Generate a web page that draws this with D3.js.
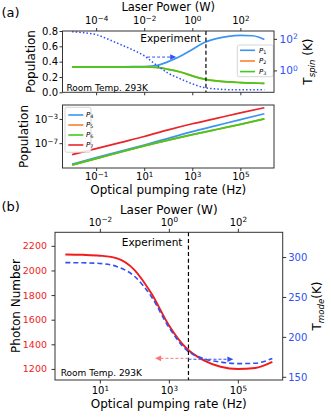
<!DOCTYPE html>
<html><head><meta charset="utf-8">
<script src="https://cdn.jsdelivr.net/npm/d3@7"></script>
<style>
body{margin:0;background:#fff;}
svg{font-family:"DejaVu Sans",sans-serif;display:block;}
</style></head><body>
<svg id="c" width="331" height="417"></svg>
<script>
// ---------------- data ----------------
// panel (a) top: populations vs optical pumping rate (log10 Hz)
const logRateA = [-2,-1.5,-1,-0.5,0,0.5,1,1.5,2,2.5,3,3.5,4,4.5,5,5.5,5.75,6];
const p1 = [0.333,0.333,0.333,0.333,0.333,0.334,0.337,0.35,0.40,0.47,0.56,0.65,0.70,0.73,0.742,0.738,0.722,0.69];
const p2 = [0.333,0.333,0.333,0.333,0.333,0.333,0.331,0.325,0.30,0.265,0.215,0.172,0.148,0.135,0.127,0.121,0.118,0.116];
const p3 = [0.333,0.333,0.333,0.333,0.333,0.333,0.331,0.325,0.30,0.265,0.215,0.172,0.148,0.135,0.127,0.121,0.118,0.116];
const tSpin = [282,245,186,95,44.7,20.9,8.3,2.24,0.66,0.295,0.141,0.081,0.066,0.060,0.059,0.059,0.059,0.059];
// panel (a) bottom
const logRateA2 = [-2,-1,0,1,2,3,4,5,6];
const p4 = [3.5e-11,4.0e-10,4.5e-9,5.0e-8,6.3e-7,7.9e-6,7.9e-5,7.9e-4,7.1e-3];
const p5 = [2.5e-11,2.8e-10,3.2e-9,3.5e-8,3.2e-7,2.5e-6,1.8e-5,1.26e-4,1.0e-3];
const p6 = [2.5e-11,2.8e-10,3.2e-9,3.5e-8,3.2e-7,2.5e-6,1.8e-5,1.26e-4,1.0e-3];
const p7 = [1.26e-9,1.26e-8,1.26e-7,1.26e-6,1.58e-5,1.58e-4,1.26e-3,1.0e-2,7.1e-2];
// panel (b)
const logRateB = [0,0.5,1,1.5,2,2.5,3,3.5,4,4.5,5,5.5,6];
const photonNumber = [2130,2127,2120,2098,2005,1810,1555,1370,1272,1218,1199,1207,1257];
const tMode = [293,292.8,292,288,276,250,212,184,173,168.5,166.5,167,173];
const experimentRate = 3700;      // Hz
const powerPerRate = 1e-3;        // W per Hz
// ticks
const ticksRateA = [1e-1,1e1,1e3,1e5];
const ticksPowerA = [1e-4,1e-2,1e0,1e2];
const ticksPopA = [0,0.2,0.4,0.6,0.8];
const ticksTspin = [1e0,1e2];
const ticksPopLog = [1e-7,1e-3];
const ticksRateB = [1e1,1e3,1e5];
const ticksPowerB = [1e-2,1e0,1e2];
const ticksN = [1200,1400,1600,1800,2000,2200];
const ticksTmode = [150,200,250,300];

// ---------------- colours ----------------
const C = {blue:"#3d94f0", orange:"#ff7f2a", green:"#3fcc1c", red:"#e8262a",
           dblue:"#3050f5", rred:"#f01c1c", lred:"#ff7575", frame:"#333"};

const svg = d3.select("#c");

function supLabel(sel){
  sel.each(function(d){
    const e = Math.round(Math.log10(d));
    const t = d3.select(this);
    t.text(null);
    t.append("tspan").text("10");
    t.append("tspan").attr("dy","-0.45em").attr("font-size","0.72em").text(e<0?"\u2212"+(-e):String(e));
  });
}
function styleAxis(g, fs, color){
  g.attr("font-family",null).attr("font-size",fs);
  g.select(".domain").remove();
  g.selectAll(".tick line").attr("stroke",C.frame);
  g.selectAll(".tick text").attr("fill",color||"#000");
}
function frame(x0,y0,x1,y1){
  svg.append("rect").attr("x",x0).attr("y",y0).attr("width",x1-x0).attr("height",y1-y0)
    .attr("fill","none").attr("stroke",C.frame).attr("stroke-width",1);
}
function pLegend(x0,y0,w,h,items,lx0,lx1,tx){
  const g = svg.append("g");
  g.append("rect").attr("x",x0).attr("y",y0).attr("width",w).attr("height",h).attr("rx",2)
    .attr("fill","#fff").attr("fill-opacity",0.85).attr("stroke","#ccc").attr("stroke-width",0.8);
  items.forEach(it=>{
    g.append("line").attr("x1",lx0).attr("x2",lx1).attr("y1",it.y).attr("y2",it.y)
      .attr("stroke",it.c).attr("stroke-width",1.6);
    const t = g.append("text").attr("x",tx).attr("y",it.y+2.2).attr("font-size",7);
    t.append("tspan").attr("font-style","italic").text("P");
    t.append("tspan").attr("dy","0.25em").attr("font-size","0.7em").text(it.n);
  });
}
function arrowHead(x,y,dir,color){
  const L=6,W=2.8;
  svg.append("path").attr("d",`M${x},${y}L${x-dir*L},${y-W}L${x-dir*L},${y+W}Z`).attr("fill",color);
}

// ================= panel (a) top =================
const xA = d3.scaleLog().domain([10**-2.4,10**6.4]).range([62.5,274]);
const xAP = d3.scaleLog().domain([10**-2.4*powerPerRate,10**6.4*powerPerRate]).range([62.5,274]);
const yA = d3.scaleLinear().domain([0,0.8]).range([92.3,31]);
const yT = d3.scaleLog().domain([10**-1.39,10**2.5]).range([92.3,31]);

const lineA = (arr, ys) => d3.line().x((d,i)=>xA(10**logRateA[i])).y(d=>ys(d)).curve(d3.curveMonotoneX)(arr);
[[p1,C.blue],[p2,C.orange],[p3,C.green]].forEach(([a,c])=>{
  svg.append("path").attr("d",lineA(a,yA)).attr("fill","none").attr("stroke",c).attr("stroke-width",1.7);
});
svg.append("path").attr("d",lineA(tSpin,yT)).attr("fill","none").attr("stroke",C.dblue)
  .attr("stroke-width",1.5).attr("stroke-dasharray","1.5,2.1");
// experiment line
svg.append("line").attr("x1",xA(experimentRate)).attr("x2",xA(experimentRate)).attr("y1",31).attr("y2",92.3)
  .attr("stroke","#000").attr("stroke-width",1.2).attr("stroke-dasharray","4,2.6");
svg.append("text").attr("x",xA(experimentRate)-5).attr("y",41.5).attr("text-anchor","end").attr("font-size",10.5).text("Experiment");
svg.append("text").attr("x",66.5).attr("y",90.5).attr("font-size",9).text("Room Temp. 293K");
// arrow
{
  const xs = xA(10**1.12), xe = xA(10**2.33), y = yA(0.46);
  svg.append("line").attr("x1",xs).attr("x2",xe-5).attr("y1",y).attr("y2",y).attr("stroke",C.dblue)
    .attr("stroke-width",1).attr("stroke-dasharray","3,2");
  arrowHead(xe,y,1,C.dblue);
}
pLegend(237.3,45,36,31.7,[{y:50.3,c:C.blue,n:"1"},{y:61,c:C.orange,n:"2"},{y:71.6,c:C.green,n:"3"}],240,255,259);
frame(62.5,31,274,92.3);
// axes
{
  let g = svg.append("g").attr("transform","translate(0,92.3)")
    .call(d3.axisBottom(xA).tickValues(ticksRateA).tickSize(3).tickFormat(()=>""));
  styleAxis(g,10);
  g = svg.append("g").attr("transform","translate(0,31)")
    .call(d3.axisTop(xAP).tickValues(ticksPowerA).tickSize(3).tickPadding(4));
  styleAxis(g,10); supLabel(g.selectAll(".tick text"));
  g = svg.append("g").attr("transform","translate(62.5,0)")
    .call(d3.axisLeft(yA).tickValues(ticksPopA).tickSize(3).tickPadding(1.5).tickFormat(d3.format(".1f")));
  styleAxis(g,10);
  g = svg.append("g").attr("transform","translate(274,0)")
    .call(d3.axisRight(yT).tickValues(ticksTspin).tickSize(3).tickPadding(2.5));
  styleAxis(g,10.5,C.dblue); supLabel(g.selectAll(".tick text"));
}
svg.append("text").attr("x",168.25).attr("y",11).attr("text-anchor","middle").attr("font-size",11.5).text("Laser Power (W)");
svg.append("text").attr("transform","translate(35,61.6) rotate(-90)").attr("text-anchor","middle").attr("font-size",12).text("Population");
{
  const t = svg.append("text").attr("transform","translate(312,61.6) rotate(-90)").attr("text-anchor","middle").attr("font-size",12);
  t.append("tspan").text("T");
  t.append("tspan").attr("dy","0.3em").attr("font-size","0.72em").attr("font-style","italic").text("spin");
  t.append("tspan").attr("dy","-0.216em").text(" (K)");
}
svg.append("text").attr("x",1.5).attr("y",16.5).attr("font-size",13).text("(a)");

// ================= panel (a) bottom =================
const yL = d3.scaleLog().domain([10**-11.1,10**-0.7]).range([168,105]);
const lineA2 = arr => d3.line().x((d,i)=>xA(10**logRateA2[i])).y(d=>yL(d)).curve(d3.curveMonotoneX)(arr);
[[p4,C.blue],[p5,C.orange],[p6,C.green],[p7,C.red]].forEach(([a,c])=>{
  svg.append("path").attr("d",lineA2(a)).attr("fill","none").attr("stroke",c).attr("stroke-width",1.7);
});
pLegend(65,107.3,26,45,[{y:115,c:C.blue,n:"4"},{y:125,c:C.orange,n:"5"},{y:135,c:C.green,n:"6"},{y:145,c:C.red,n:"7"}],68.3,83.3,86);
frame(62.5,105,274,168);
{
  let g = svg.append("g").attr("transform","translate(0,168)")
    .call(d3.axisBottom(xA).tickValues(ticksRateA).tickSize(3).tickPadding(1.8));
  styleAxis(g,10); supLabel(g.selectAll(".tick text"));
  g = svg.append("g").attr("transform","translate(62.5,0)")
    .call(d3.axisLeft(yL).tickValues(ticksPopLog).tickSize(3).tickPadding(1.5));
  styleAxis(g,10); supLabel(g.selectAll(".tick text"));
}
svg.append("text").attr("x",168.25).attr("y",193.5).attr("text-anchor","middle").attr("font-size",12).text("Optical pumping rate (Hz)");
svg.append("text").attr("transform","translate(28,136.5) rotate(-90)").attr("text-anchor","middle").attr("font-size",12).text("Population");

// ================= panel (b) =================
const xB = d3.scaleLog().domain([10**-0.3,10**6.3]).range([55,282.7]);
const xBP = d3.scaleLog().domain([10**-0.3*powerPerRate,10**6.3*powerPerRate]).range([55,282.7]);
const yN = d3.scaleLinear().domain([1110,2310]).range([380,232.3]);
const yTm = d3.scaleLinear().domain([146,331]).range([380,232.3]);
const lineB = (arr, ys) => d3.line().x((d,i)=>xB(10**logRateB[i])).y(d=>ys(d)).curve(d3.curveMonotoneX)(arr);
svg.append("path").attr("d",lineB(photonNumber,yN)).attr("fill","none").attr("stroke",C.rred).attr("stroke-width",1.9);
svg.append("path").attr("d",lineB(tMode,yTm)).attr("fill","none").attr("stroke",C.dblue)
  .attr("stroke-width",1.6).attr("stroke-dasharray","5,3");
svg.append("line").attr("x1",xB(experimentRate)).attr("x2",xB(experimentRate)).attr("y1",232.3).attr("y2",380)
  .attr("stroke","#000").attr("stroke-width",1.2).attr("stroke-dasharray","4,2.6");
svg.append("text").attr("x",xB(experimentRate)-6).attr("y",245.5).attr("text-anchor","end").attr("font-size",10.5).text("Experiment");
svg.append("text").attr("x",60.7).attr("y",376).attr("font-size",9).text("Room Temp. 293K");
{
  const xs = xB(experimentRate);
  const yr = yN(1286), xr = xB(10**2.6);
  svg.append("line").attr("x1",xs).attr("x2",xr+5).attr("y1",yr).attr("y2",yr).attr("stroke",C.lred)
    .attr("stroke-width",1).attr("stroke-dasharray","3,2");
  arrowHead(xr,yr,-1,C.lred);
  const yb = yTm(172), xb = xB(10**4.87);
  svg.append("line").attr("x1",xs).attr("x2",xb-5).attr("y1",yb).attr("y2",yb).attr("stroke",C.dblue)
    .attr("stroke-width",1).attr("stroke-dasharray","3,2");
  arrowHead(xb,yb,1,C.dblue);
}
frame(55,232.3,282.7,380);
{
  let g = svg.append("g").attr("transform","translate(0,380)")
    .call(d3.axisBottom(xB).tickValues(ticksRateB).tickSize(3.5).tickPadding(3.5));
  styleAxis(g,10); supLabel(g.selectAll(".tick text"));
  g = svg.append("g").attr("transform","translate(0,232.3)")
    .call(d3.axisTop(xBP).tickValues(ticksPowerB).tickSize(3.5).tickPadding(3.3));
  styleAxis(g,10); supLabel(g.selectAll(".tick text"));
  g = svg.append("g").attr("transform","translate(55,0)")
    .call(d3.axisLeft(yN).tickValues(ticksN).tickSize(3.5).tickPadding(4.5).tickFormat(d3.format("d")));
  styleAxis(g,9.5,C.rred);
  g = svg.append("g").attr("transform","translate(282.7,0)")
    .call(d3.axisRight(yTm).tickValues(ticksTmode).tickSize(3.5).tickPadding(2).tickFormat(d3.format("d")));
  styleAxis(g,10,C.dblue);
}
svg.append("text").attr("x",168.8).attr("y",213.5).attr("text-anchor","middle").attr("font-size",12).text("Laser Power (W)");
svg.append("text").attr("x",168.8).attr("y",408).attr("text-anchor","middle").attr("font-size",12).text("Optical pumping rate (Hz)");
svg.append("text").attr("transform","translate(20,306) rotate(-90)").attr("text-anchor","middle").attr("font-size",12).text("Photon Number");
{
  const t = svg.append("text").attr("transform","translate(321,306) rotate(-90)").attr("text-anchor","middle").attr("font-size",12);
  t.append("tspan").text("T");
  t.append("tspan").attr("dy","0.3em").attr("font-size","0.72em").attr("font-style","italic").text("mode");
  t.append("tspan").attr("dy","-0.216em").text("(K)");
}
svg.append("text").attr("x",1.5).attr("y",210.5).attr("font-size",13).text("(b)");
</script>
</body></html>
